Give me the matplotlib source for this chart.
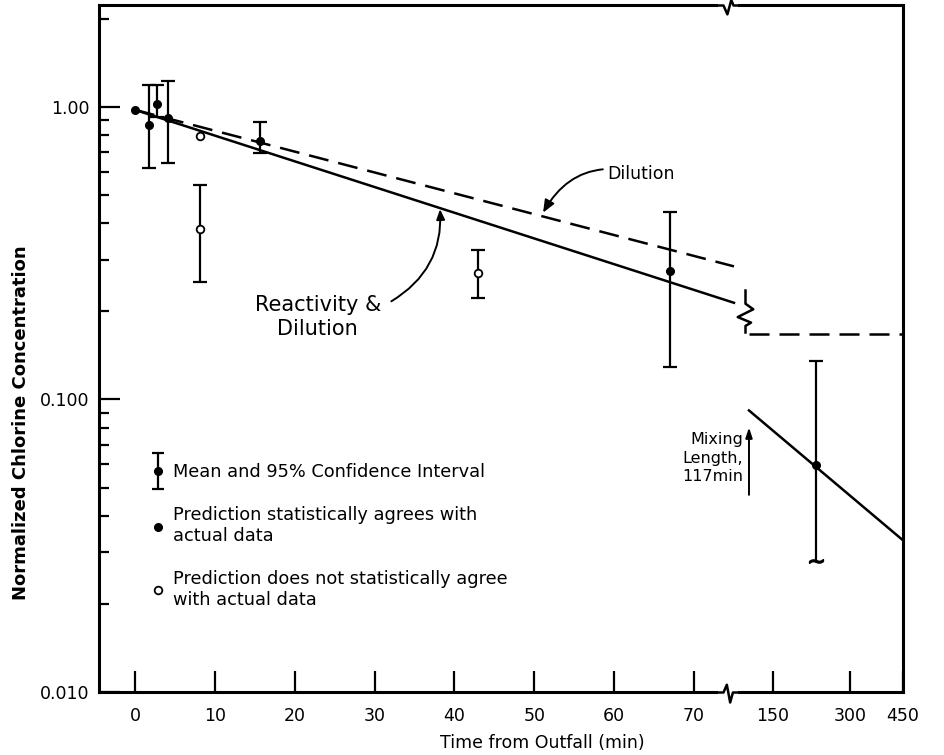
import numpy as np
import matplotlib
matplotlib.use("Agg")
import matplotlib.pyplot as plt
from matplotlib.path import Path
from matplotlib.lines import Line2D
from matplotlib.ticker import FixedLocator, FixedFormatter, LogLocator, NullFormatter

# measured data (time in min, normalized concentration)
obs_time = [1.7, 2.7, 4.2, 8.2, 15.6, 42.9, 67.0, 234]
obs_mean = [0.87, 1.02, 0.915, 0.383, 0.766, 0.271, 0.274, 0.0595]
obs_low = [0.62, 0.92, 0.642, 0.252, 0.695, 0.223, 0.129, 0.028]
obs_high = [1.19, 1.19, 1.23, 0.542, 0.891, 0.325, 0.437, 0.135]
obs_agrees = [True, True, True, False, True, False, True, True]

# single points without interval
extra_time = [0, 8.2]
extra_conc = [0.977, 0.796]
extra_agrees = [True, False]

# predictions
react_time = [0, 75]
react_conc = [0.977, 0.214]
dil_time = [0, 75]
dil_conc = [0.977, 0.285]
react_time2 = [117, 450]
react_conc2 = [0.0917, 0.033]
dil_time2 = [117, 450]
dil_conc2 = [0.168, 0.168]
mixing_time = 117

xticks = [0, 10, 20, 30, 40, 50, 60, 70, 150, 300, 450]
yticks = [0.01, 0.1, 1.0]
ylabels = ["0.010", "0.100", "1.00"]

# broken time axis: linear up to 75 min, compressed afterwards
knot_t = [-100, 0, 75, 117, 150, 300, 450, 1000]
knot_u = [-663.7, 135, 734, 749, 773, 850, 903, 1097]


def fwd(x):
    return np.interp(x, knot_t, knot_u)


def inv(u):
    return np.interp(u, knot_u, knot_t)


plt.rcParams["font.family"] = "DejaVu Sans"

fig = plt.figure(figsize=(9.44, 7.55), dpi=100)
ax = fig.add_axes([99 / 944, 1 - 692 / 755, 804 / 944, 687 / 755])
ax.set_xscale("function", functions=(fwd, inv))
ax.set_yscale("log")
ax.set_xlim(-4.5, 450)
ax.set_ylim(0.01, 2.23)

for s in ax.spines.values():
    s.set_linewidth(2.2)

ax.xaxis.set_major_locator(FixedLocator(xticks))
ax.xaxis.set_major_formatter(FixedFormatter([str(x) for x in xticks]))
ax.xaxis.set_minor_locator(FixedLocator([]))
ax.yaxis.set_major_locator(FixedLocator(yticks))
ax.yaxis.set_major_formatter(FixedFormatter(ylabels))
ax.yaxis.set_minor_locator(LogLocator(base=10, subs=np.arange(2, 10)))
ax.yaxis.set_minor_formatter(NullFormatter())
ax.tick_params(which="major", direction="in", length=15, width=1.6, labelsize=12.5)
ax.tick_params(axis="x", which="major", pad=11)
ax.tick_params(axis="y", which="major", pad=7)
ax.tick_params(which="minor", direction="in", length=7, width=1.6)

# prediction lines
ax.plot(react_time, react_conc, color="k", lw=1.8)
ax.plot(dil_time, dil_conc, color="k", lw=1.8, ls=(0, (8, 4)))
ax.plot(react_time2, react_conc2, color="k", lw=1.8)
ax.plot(dil_time2, dil_conc2, color="k", lw=1.8, ls=(0, (8, 4)))

# error bars, last one continues below (no lower cap)
t = np.array(obs_time)
m = np.array(obs_mean)
lo = np.array(obs_low)
hi = np.array(obs_high)
ag = np.array(obs_agrees)
ax.errorbar(t[:-1], m[:-1], yerr=[m[:-1] - lo[:-1], hi[:-1] - m[:-1]], fmt="none",
            ecolor="k", elinewidth=1.6, capsize=5, capthick=1.6)
ax.errorbar(t[-1:], m[-1:], yerr=[m[-1:] - lo[-1:], hi[-1:] - m[-1:]], fmt="none",
            ecolor="k", elinewidth=1.6, capsize=0)
ax.plot(t[-1:], hi[-1:], marker="_", ms=10, mew=1.6, color="k", ls="none")
ax.plot(t[-1:], lo[-1:], marker="$\\sim$", ms=10, color="k", ls="none")

ax.plot(t[ag], m[ag], "o", color="k", ms=5.5, ls="none", zorder=5)
ax.plot(t[~ag], m[~ag], "o", mfc="white", mec="k", mew=1.3, ms=5.5, ls="none", zorder=5)
et = np.array(extra_time)
ec = np.array(extra_conc)
ea = np.array(extra_agrees)
ax.plot(et[ea], ec[ea], "o", color="k", ms=5.5, ls="none", zorder=5)
ax.plot(et[~ea], ec[~ea], "o", mfc="white", mec="k", mew=1.3, ms=5.5, ls="none", zorder=5)

# break symbols
zig = Path([(-1, 0), (-0.45, 0), (-0.1, -0.8), (0.25, 0.5), (0.45, 0), (1, 0)])
zig_up = Path([(-1, 0), (-0.45, 0), (-0.15, 0.7), (0.15, -0.9), (0.4, 0), (1, 0)])
xt = ax.get_xaxis_transform()
for yy, mk in [(1, zig), (0, zig_up)]:
    ax.plot([74.3], [yy], transform=xt, marker="_", ms=14, mew=4, color="white",
            clip_on=False, zorder=10)
    ax.plot([74.3], [yy], transform=xt, marker=mk, ms=16, mew=1.8, mfc="none",
            mec="k", clip_on=False, zorder=11)
vzig = Path([(0, 1), (0, 0.35), (0.35, 0.1), (-0.35, -0.25), (0.25, -0.5), (0, -0.65), (0, -1)])
ax.plot([106], [0.2], marker=vzig, ms=32, mew=1.8, mfc="none", mec="k", ls="none")

# annotations
ax.annotate("Dilution", xy=(51.1, 0.435), xytext=(59.1, 0.59), fontsize=12.5,
            ha="left", va="center",
            arrowprops=dict(arrowstyle="-|>,head_length=0.6,head_width=0.25", color="k",
                            lw=1.4, shrinkA=1, shrinkB=0,
                            connectionstyle="arc3,rad=0.4"))
ax.text(22.9, 0.191, "Reactivity &\nDilution", fontsize=15, ha="center", va="center",
        linespacing=1.25)
ax.annotate("", xy=(38.2, 0.447), xytext=(32.1, 0.2165),
            arrowprops=dict(arrowstyle="-|>,head_length=0.6,head_width=0.25", color="k",
                            lw=1.4, shrinkA=0, shrinkB=0,
                            connectionstyle="arc3,rad=0.3"))
ax.annotate("", xy=(mixing_time, 0.0802), xytext=(mixing_time, 0.0472),
            arrowprops=dict(arrowstyle="-|>,head_length=0.6,head_width=0.2", color="k",
                            lw=1.4, shrinkA=0, shrinkB=0))
ax.text(101, 0.063, "Mixing\nLength,\n117min", fontsize=11.5, ha="right", va="center",
        linespacing=1.3)

# legend
ibar = Path([(-0.35, 1), (0.35, 1), (0, 1), (0, -1), (-0.35, -1), (0.35, -1)],
            [Path.MOVETO, Path.LINETO, Path.MOVETO, Path.LINETO, Path.MOVETO, Path.LINETO])
h_bar = Line2D([], [], marker=ibar, ms=26, mew=1.6, mec="k", mfc="none", ls="none")
h_dot = Line2D([], [], marker="o", ms=5.5, color="k", ls="none")
h_open = Line2D([], [], marker="o", ms=5.5, mfc="white", mec="k", mew=1.3, ls="none")
ax.legend([(h_bar, h_dot), h_dot, h_open],
          ["Mean and 95% Confidence Interval",
           "Prediction statistically agrees with\nactual data",
           "Prediction does not statistically agree\nwith actual data"],
          loc="upper left", bbox_to_anchor=(0.056, 0.343), frameon=False, fontsize=12.8,
          handlelength=0.8, handletextpad=0.45, labelspacing=1.4, numpoints=1,
          borderaxespad=0)

ax.set_ylabel("Normalized Chlorine Concentration", fontsize=13, fontweight="bold")
ax.yaxis.set_label_coords(-0.086, 0.392)
ax.set_xlabel("Time from Outfall (min)", fontsize=12.5)
ax.xaxis.set_label_coords(0.551, -0.061)

fig.savefig("out.png", dpi=100)
